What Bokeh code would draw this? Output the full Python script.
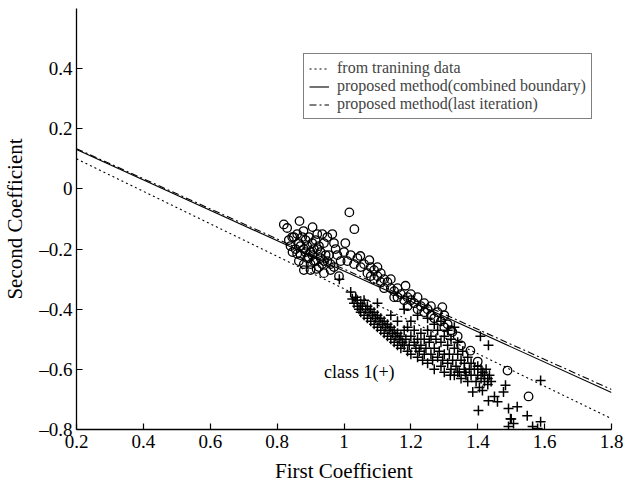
from bokeh.plotting import figure
from bokeh.models import (Legend, LegendItem, FixedTicker, CustomJSTickFormatter,
                          Range1d)
from bokeh.core.properties import value
from bokeh.embed import file_html
from bokeh.resources import INLINE

# --- data -----------------------------------------------------------------
x_ticks = [0.2, 0.4, 0.6, 0.8, 1.0, 1.2, 1.4, 1.6, 1.8]
y_ticks = [-0.8, -0.6, -0.4, -0.2, 0.0, 0.2, 0.4]

# decision boundaries, evaluated at both ends of the x range
boundary_x = [0.2, 1.8]
train_y = [0.100, -0.764]
combined_y = [0.131, -0.677]
last_iter_y = [0.134, -0.667]

# class 2 samples (circles)
circle_x = [
    0.82, 0.83, 0.845, 0.86, 0.867, 0.879, 0.906, 0.92, 0.935, 0.95, 0.965,
    0.835, 0.85, 0.865, 0.875, 0.885, 0.895, 0.905, 0.915, 0.925, 0.94,
    0.84, 0.855, 0.87, 0.88, 0.89, 0.90, 0.91, 0.92, 0.93, 0.945,
    0.846, 0.86, 0.87, 0.885, 0.895, 0.905, 0.915, 0.93, 0.94, 0.955,
    0.865, 0.88, 0.89, 0.90, 0.91, 0.925, 0.935, 0.95, 0.96, 0.97,
    0.88, 0.90, 0.918, 0.94, 0.96, 0.975, 0.985, 0.99, 0.97, 0.98,
    1.0, 1.01, 1.02, 1.03, 1.04, 1.05, 1.049, 1.06, 1.076, 1.07, 1.08,
    1.08, 1.09, 1.09, 1.10, 1.10, 1.11, 1.11, 1.12, 1.12, 1.13, 1.14,
    1.14, 1.15, 1.15, 1.16, 1.16, 1.17, 1.184, 1.18, 1.19, 1.19, 1.20,
    1.20, 1.21, 1.22, 1.22, 1.23, 1.24, 1.24, 1.25, 1.26, 1.26, 1.27,
    1.28, 1.29, 1.30, 1.30, 1.31, 1.32, 1.324, 1.34, 1.35, 1.378, 1.40,
    1.016, 1.031, 1.004, 1.294, 1.489, 1.552,
]
circle_y = [
    -0.118, -0.13, -0.16, -0.15, -0.107, -0.14, -0.127, -0.15, -0.15, -0.16, -0.15,
    -0.17, -0.16, -0.18, -0.16, -0.17, -0.16, -0.18, -0.17, -0.19, -0.18,
    -0.19, -0.20, -0.19, -0.20, -0.19, -0.21, -0.20, -0.20, -0.21, -0.22,
    -0.21, -0.216, -0.22, -0.21, -0.23, -0.22, -0.24, -0.23, -0.24, -0.22,
    -0.24, -0.25, -0.23, -0.25, -0.24, -0.26, -0.25, -0.24, -0.25, -0.26,
    -0.27, -0.27, -0.266, -0.28, -0.27, -0.20, -0.29, -0.24, -0.18, -0.22,
    -0.21, -0.24, -0.22, -0.25, -0.23, -0.26, -0.223, -0.25, -0.237, -0.28, -0.26,
    -0.29, -0.27, -0.30, -0.26, -0.29, -0.31, -0.28, -0.30, -0.33, -0.31, -0.33,
    -0.30, -0.34, -0.36, -0.33, -0.36, -0.35, -0.322, -0.37, -0.36, -0.39, -0.37,
    -0.35, -0.38, -0.36, -0.40, -0.39, -0.38, -0.41, -0.40, -0.42, -0.39, -0.43,
    -0.41, -0.44, -0.42, -0.46, -0.45, -0.47, -0.476, -0.49, -0.52, -0.538, -0.574,
    -0.078, -0.134, -0.18, -0.393, -0.604, -0.69,
]

# class 1 samples (crosses)
plus_x = [
    0.986, 1.02, 1.025, 1.03, 1.035, 1.04, 1.04, 1.045, 1.05, 1.05, 1.055,
    1.06, 1.06, 1.065, 1.07, 1.07, 1.075, 1.08, 1.08, 1.085, 1.09, 1.09,
    1.095, 1.10, 1.10, 1.10, 1.105,
    1.11, 1.11, 1.115, 1.12, 1.12, 1.125, 1.13, 1.13, 1.135, 1.14, 1.14,
    1.14, 1.145, 1.15, 1.15, 1.155, 1.16, 1.16, 1.16, 1.165, 1.17, 1.17,
    1.175, 1.18, 1.18, 1.185, 1.19, 1.19, 1.195, 1.20, 1.20, 1.20,
    1.21, 1.21, 1.215, 1.22, 1.22, 1.225, 1.23, 1.23, 1.235, 1.24, 1.24,
    1.245, 1.25, 1.25, 1.255, 1.26, 1.26, 1.265, 1.27, 1.27, 1.275, 1.28,
    1.28, 1.285, 1.29, 1.29, 1.295, 1.30, 1.30, 1.30,
    1.31, 1.31, 1.315, 1.32, 1.32, 1.325, 1.33, 1.33, 1.335, 1.34, 1.34,
    1.345, 1.35, 1.35, 1.355, 1.36, 1.36, 1.365, 1.37, 1.37, 1.375, 1.38,
    1.38, 1.385, 1.39, 1.395, 1.40, 1.40, 1.402, 1.405, 1.41, 1.41, 1.415,
    1.42, 1.42, 1.425, 1.43, 1.43, 1.435, 1.44, 1.408, 1.432,
    1.27, 1.29, 1.31, 1.33, 1.25, 1.22, 1.18,
    1.414, 1.432, 1.459, 1.477, 1.483, 1.492, 1.518, 1.498, 1.507, 1.492,
    1.548, 1.588, 1.564, 1.579, 1.588, 1.50, 1.45, 1.318, 1.34, 1.363,
]
plus_y = [
    -0.30, -0.343, -0.366, -0.38, -0.36, -0.39, -0.37, -0.40, -0.38, -0.41, -0.39,
    -0.42, -0.37, -0.40, -0.43, -0.39, -0.41, -0.44, -0.40, -0.42, -0.45, -0.41,
    -0.43, -0.46, -0.42, -0.38, -0.44,
    -0.47, -0.43, -0.45, -0.48, -0.44, -0.46, -0.49, -0.45, -0.47, -0.50, -0.46,
    -0.42, -0.48, -0.51, -0.47, -0.49, -0.52, -0.48, -0.44, -0.50, -0.53, -0.49,
    -0.51, -0.47, -0.52, -0.50, -0.54, -0.46, -0.52, -0.49, -0.55, -0.44,
    -0.51, -0.47, -0.53, -0.56, -0.50, -0.54, -0.48, -0.52, -0.57, -0.50, -0.55,
    -0.53, -0.47, -0.58, -0.51, -0.55, -0.49, -0.57, -0.53, -0.60, -0.50, -0.56,
    -0.47, -0.54, -0.59, -0.51, -0.57, -0.49, -0.55, -0.61,
    -0.52, -0.58, -0.55, -0.60, -0.50, -0.57, -0.53, -0.62, -0.59, -0.55, -0.51,
    -0.61, -0.57, -0.63, -0.54, -0.60, -0.58, -0.62, -0.56, -0.64, -0.60, -0.58,
    -0.62, -0.675, -0.60, -0.64, -0.59, -0.62, -0.737, -0.66, -0.60, -0.63, -0.61,
    -0.64, -0.62, -0.60, -0.63, -0.65, -0.62, -0.64, -0.49, -0.52,
    -0.45, -0.44, -0.47, -0.46, -0.43, -0.42, -0.40,
    -0.67, -0.704, -0.708, -0.675, -0.653, -0.73, -0.724, -0.764, -0.78, -0.79,
    -0.754, -0.774, -0.79, -0.797, -0.637, -0.765, -0.69, -0.62, -0.61, -0.61,
]

legend_labels = [
    "from tranining data",
    "proposed method(combined boundary)",
    "proposed method(last iteration)",
]
class_label = "class 1(+)"
class_label_pos = (0.94, -0.608)

FONT = "Liberation Serif"

# --- figure ---------------------------------------------------------------
p = figure(width=623, height=485, output_backend="svg", toolbar_location=None,
           x_range=Range1d(0.2, 1.8), y_range=Range1d(-0.8, 0.6),
           min_border_left=76, min_border_right=12,
           min_border_top=8, min_border_bottom=54)
p.outline_line_color = None
p.background_fill_color = "white"
p.border_fill_color = "white"
p.xgrid.visible = False
p.ygrid.visible = False

fmt = CustomJSTickFormatter(code="""
    const v = Math.abs(tick) < 1e-9 ? 0 : tick;
    let s = String(parseFloat(v.toFixed(2)));
    return s.replace('-', '\u2013');
""")

for ax in (p.xaxis[0], p.yaxis[0]):
    ax.formatter = fmt
    ax.axis_line_color = "black"
    ax.axis_line_width = 1.3
    ax.major_tick_in = 6
    ax.major_tick_out = 0
    ax.major_tick_line_width = 1.2
    ax.minor_tick_line_color = None
    ax.major_label_text_font = FONT
    ax.major_label_text_font_size = "19px"
    ax.major_label_text_color = "black"
    ax.axis_label_text_font = FONT
    ax.axis_label_text_font_size = "21px"
    ax.axis_label_text_font_style = "normal"
    ax.axis_label_text_color = "black"

p.xaxis.ticker = FixedTicker(ticks=x_ticks)
p.yaxis.ticker = FixedTicker(ticks=y_ticks)
p.xaxis.axis_label = "First Coefficient"
p.yaxis.axis_label = "Second Coefficient"
p.xaxis.major_label_standoff = 5
p.yaxis.major_label_standoff = 4
p.xaxis.axis_label_standoff = 8
p.yaxis.axis_label_standoff = 9

# samples
p.scatter(circle_x, circle_y, marker="circle", size=8.5, fill_color=None,
          line_color="black", line_width=1.3)
p.scatter(plus_x, plus_y, marker="cross", size=10,
          line_color="black", line_width=1.5)

# boundaries
r_train = p.line(boundary_x, train_y, line_color="black", line_width=1.1,
                 line_dash="2 3")
r_comb = p.line(boundary_x, combined_y, line_color="black", line_width=1.1)
r_last = p.line(boundary_x, last_iter_y, line_color="black", line_width=1.1,
                line_dash="7 3 2 3")

p.text(x=[class_label_pos[0]], y=[class_label_pos[1]], text=[class_label],
       text_font=value(FONT), text_font_size="18px", text_color="black",
       text_baseline="middle", text_align="left")

legend = Legend(
    items=[LegendItem(label=legend_labels[0], renderers=[r_train]),
           LegendItem(label=legend_labels[1], renderers=[r_comb]),
           LegendItem(label=legend_labels[2], renderers=[r_last])],
    location=(227, 310),
    border_line_color="black", border_line_width=1.2,
    background_fill_color="white", background_fill_alpha=1,
    label_text_font=FONT, label_text_font_size="16px",
    label_height=15, glyph_height=15, glyph_width=20,
    label_standoff=8, spacing=-2, padding=5, margin=0,
)
p.add_layout(legend)

open("out.html", "w").write(file_html(p, INLINE))
